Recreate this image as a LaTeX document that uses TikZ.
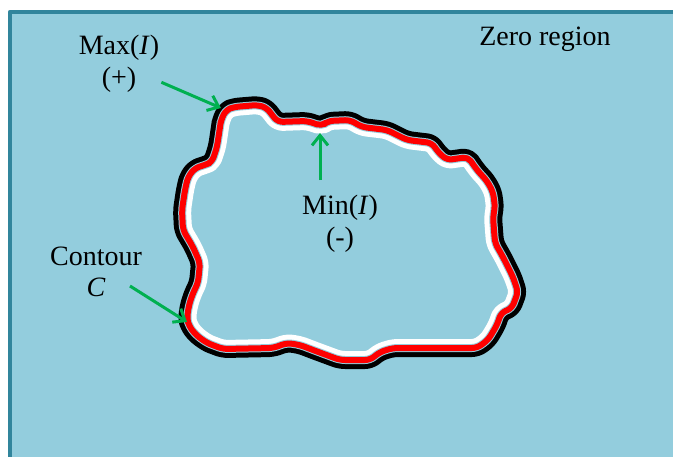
\documentclass[tikz,border=0pt]{standalone}
\usepackage{fontspec}
\setmainfont{Liberation Serif}
\usetikzlibrary{arrows.meta}
\definecolor{cBg}{HTML}{93CDDD}
\definecolor{cFrame}{HTML}{31859C}
\definecolor{cArr}{HTML}{00B050}
\definecolor{cRed}{HTML}{FF0000}

\begin{document}
\begin{tikzpicture}[x=1pt,y=-1pt,line join=round,
  lbl/.style={align=center,font=\fontsize{28}{31.5}\selectfont,inner sep=2pt},
  arr/.style={draw=cArr,line width=3pt,-{Straight Barb[length=10pt,width=16pt]}},
  blobpath/.style={rounded corners=5pt,insert path={
    (221,120) -- (226,110) -- (234,107) -- (258,105) -- (267,108) -- (272,115) -- (278,122)
    -- (307,121) -- (322,126) -- (328,121) -- (350,120) -- (362,127) -- (387,130) -- (397,135)
    -- (407,140) -- (432,143) -- (438,152) -- (447,160) -- (468,157) -- (477,170) -- (487,181)
    -- (493,192) -- (495,207) -- (493,217) -- (495,243) -- (503,257) -- (513,277) -- (518,292)
    -- (512,308) -- (501,313) -- (497,325) -- (488,340) -- (477,348) -- (393,348) -- (380,352)
    -- (370,360) -- (340,360) -- (313,350) -- (300,345) -- (287,343) -- (273,348) -- (223,349)
    -- (207,343) -- (196,335) -- (189,326) -- (187,318) -- (189,305) -- (193,293) -- (198,283)
    -- (200,263) -- (193,247) -- (183,230) -- (182,210) -- (185,190) -- (188,177) -- (195,168)
    -- (205,165) -- (212,162) -- (217,147) -- (220,127) -- cycle}}]
\useasboundingbox (0,0) rectangle (673,456);
\fill[white] (0,0) rectangle (673,456);
% frame of the zero region
\draw[cFrame,fill=cBg,line width=4.5pt] (10,12) rectangle (700,480);
% contour C: black band outside, white band inside
\draw[black,line width=18pt,blobpath];
\fill[cBg,blobpath];
\begin{scope}
\clip[blobpath];
\draw[white,line width=18pt,blobpath];
\end{scope}
\draw[cBg,line width=8pt,blobpath];
\draw[cRed,line width=6pt,blobpath];
% labels
\node[lbl] (zero) at (545,39) {Zero region};
\node[lbl] (maxlbl) at (119,64) {Max(\textit{I})\\(+)};
\node[lbl] (minlbl) at (340,224) {Min(\textit{I})\\(-)};
\node[lbl] (contlbl) at (96,272) {Contour\\\textit{C}};
% arrows
\coordinate (maxpt) at (221,108);
\coordinate (minpt) at (320,133);
\coordinate (minst) at (320,180);
\coordinate (contpt) at (187,322);
\coordinate (contst) at (130,286);
\draw[arr] (maxlbl) -- (maxpt);
\draw[arr] (minst) -- (minpt);
\draw[arr] (contst) -- (contpt);
\end{tikzpicture}
\end{document}
